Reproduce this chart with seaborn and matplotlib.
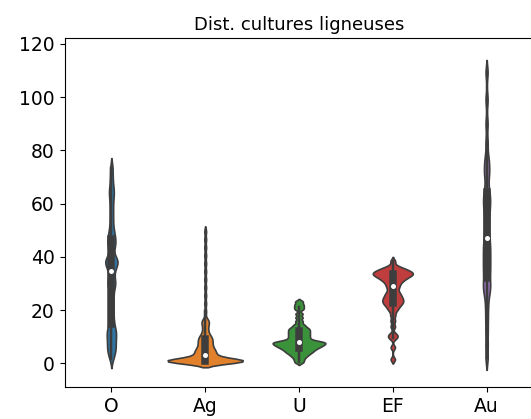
import matplotlib
matplotlib.use("Agg")
import matplotlib.pyplot as plt
import seaborn as sns
import pandas as pd

categories = ["O", "Ag", "U", "EF", "Au"]

vals_O = [1.8,
          3.5, 4.5, 5.5, 6.5, 7.5, 8.5, 9.5, 10.5, 11.5, 12.0, 13.0, 14.5, 16.0,
          18.0, 20.0, 22.0, 24.0, 26.0, 28.0, 29.5, 30.0, 31.0, 32.5,
          34.0, 35.5, 36.5, 37.2, 37.8, 38.3, 38.8, 39.4, 40.0,
          42.8, 44.0, 45.0, 46.0, 47.0, 48.2, 49.5,
          51.5, 54.0, 56.5, 59.0, 61.5, 63.5, 65.0, 67.0, 70.0, 73.5]
vals_Ag = [0.5, 0.5, 0.5, 0.5, 0.5, 0.5, 0.5, 0.6, 0.6, 0.6, 0.6, 0.6,
           0.7, 0.7, 0.7, 0.7, 0.7, 0.8, 0.8, 0.8, 0.8, 0.8, 0.9, 0.9, 0.9, 0.9,
           1.0, 1.0, 1.0, 1.0, 1.1, 1.1, 1.1, 1.1, 1.2, 1.2, 1.2, 1.3, 1.3, 1.3,
           1.5, 1.7, 1.9, 2.1, 2.3, 2.5, 2.7, 2.9,
           3.1, 3.3, 3.5, 3.7, 3.9, 4.1, 4.3, 4.5, 4.7, 4.9, 5.1, 5.3, 5.5,
           5.8, 6.1, 6.4, 6.7, 7.0, 7.3, 7.6, 7.9, 8.2, 8.5, 8.8, 9.1, 9.4, 9.7,
           10.0, 10.3,
           10.8, 11.4, 12.1, 12.8, 13.6, 14.4, 15.0, 15.5, 16.0, 16.6,
           19.5, 22.5, 25.5, 28.5, 31.5, 34.5, 37.5, 40.5, 43.5, 46.5, 49.5]
vals_U = [0.4, 1.3, 2.1,
          2.7, 3.2, 3.6, 4.0, 4.3,
          4.6, 4.9, 5.2, 5.4, 5.7, 5.9, 6.1, 6.3,
          6.5, 6.7, 6.9, 7.0, 7.2, 7.4, 7.5, 7.7, 7.9,
          8.0, 8.1, 8.3, 8.6, 8.9,
          9.3, 9.7, 10.1, 10.5, 10.9, 11.3,
          11.7, 12.1, 12.5, 12.9, 13.3,
          13.9, 14.6,
          15.8, 17.2, 18.6,
          20.3, 21.2, 22.1, 23.2]
vals_EF = [1.5, 6.0,
           9.4, 10.2, 11.0,
           13.8, 16.0,
           18.0, 19.6, 20.5, 21.2,
           21.8, 22.3, 22.7, 23.1, 23.5, 23.9, 24.3, 24.7, 25.2, 25.7, 26.2, 26.8,
           27.6, 28.4, 29.0, 29.6,
           30.2, 30.7, 31.1, 31.5, 31.8,
           32.1, 32.4, 32.7, 32.9, 33.1, 33.3, 33.5, 33.7, 33.9, 34.1, 34.3, 34.5,
           34.7, 35.0, 35.3, 35.6, 35.9,
           36.6, 38.4]
vals_Au = [2.0, 7.0, 12.0, 16.5, 20.5, 24.0, 26.5, 28.0, 29.2, 30.5,
           32.5, 34.0, 35.5, 37.0, 38.5, 40.0, 41.5, 43.0, 44.5, 46.0,
           48.0, 50.0, 52.0, 54.0, 56.0, 58.0, 59.5, 61.0, 62.5, 64.0,
           66.0, 69.5, 71.5, 73.5, 75.5, 78.0, 83.0, 90.0, 99.0, 109.5]

title = "Dist. cultures ligneuses"

series = [vals_O, vals_Ag, vals_U, vals_EF, vals_Au]
df = pd.DataFrame({
    "cat": [c for c, v in zip(categories, series) for _ in v],
    "val": [x for v in series for x in v],
})

plt.rcParams["font.family"] = ["DejaVu Sans"]
fig = plt.figure(figsize=(5.31, 4.19), dpi=100)
ax = fig.add_axes([64.5 / 531, (419 - 387.3) / 419, (533.5 - 64.5) / 531, (387.3 - 38.3) / 419])

sns.violinplot(data=df, x="cat", y="val", hue="cat", order=categories,
               hue_order=categories, palette="tab10", legend=False,
               bw_method=0.09, cut=2, density_norm="area", common_norm=True,
               linewidth=1.2,
               inner="box", inner_kws={"marker": "o", "markersize": 2.5},
               ax=ax)

ax.set_xlim(-0.5, 4.5)
ax.set_ylim(-9.0, 122.1)
ax.set_yticks([0, 20, 40, 60, 80, 100, 120])
ax.set_xlabel("")
ax.set_ylabel("")
ax.set_title(title, fontsize=13)
ax.tick_params(labelsize=13.5)

fig.savefig("out.png", dpi=100)
